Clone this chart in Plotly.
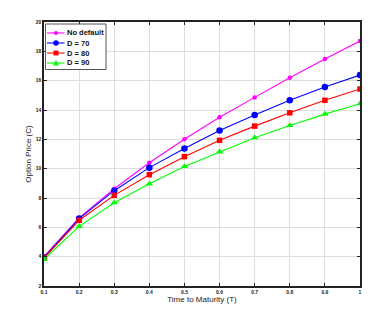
import plotly.graph_objects as go

T = [0.1, 0.2, 0.3, 0.4, 0.5, 0.6, 0.7, 0.8, 0.9, 1.0]
no_default = [4.00, 6.64, 8.63, 10.40, 12.00, 13.50, 14.86, 16.20, 17.47, 18.70]
d70 = [3.95, 6.60, 8.50, 10.07, 11.38, 12.60, 13.66, 14.66, 15.57, 16.38]
d80 = [3.90, 6.48, 8.18, 9.59, 10.82, 11.93, 12.90, 13.81, 14.66, 15.43]
d90 = [3.82, 6.07, 7.68, 8.97, 10.15, 11.15, 12.11, 12.95, 13.72, 14.43]

x_ticks = [0.1, 0.2, 0.3, 0.4, 0.5, 0.6, 0.7, 0.8, 0.9, 1]
x_ticktext = ["0.1", "0.2", "0.3", "0.4", "0.5", "0.6", "0.7", "0.8", "0.9", "1"]
y_ticks = [2, 4, 6, 8, 10, 12, 14, 16, 18, 20]

series_names = ["No default", "D = 70", "D = 80", "D = 90"]
series_values = [no_default, d70, d80, d90]
series_colors = ["#ff00ff", "#0000ff", "#ff0000", "#00ff00"]
series_symbols = ["circle", "circle", "square", "triangle-up"]
series_sizes = [4.5, 6.5, 5.5, 6.5]

# plot-area geometry (pixels) used for the hand-drawn compact legend
W, H = 374, 317
ML, MR, MT, MB = 44, 14, 22, 31
PW, PH = W - ML - MR, H - MT - MB


def px_x(p):
    return (p - ML) / PW


def px_y(p):
    return 1 - (p - MT) / PH


fig = go.Figure()
for name, vals, col, sym, sz in zip(series_names, series_values, series_colors,
                                    series_symbols, series_sizes):
    fig.add_trace(go.Scatter(
        x=T, y=vals, name=name, mode="lines+markers",
        line=dict(color=col, width=1.1),
        marker=dict(color=col, symbol=sym, size=sz, line=dict(width=0)),
        showlegend=False,
    ))

FONT = "Liberation Sans, Arial, sans-serif"

# compact legend (box, sample lines, sample markers, labels)
shapes = []
annotations = []
shapes.append(dict(type="rect", xref="paper", yref="paper",
                   x0=px_x(45.5), x1=px_x(106), y0=px_y(69.5), y1=px_y(24),
                   line=dict(color="#555555", width=1), fillcolor="white", layer="above"))
entry_y = [33, 43, 53, 63]
legend_marker_sizes = [4, 5.5, 5, 6]
for i, (name, col, sym) in enumerate(zip(series_names, series_colors, series_symbols)):
    yy = px_y(entry_y[i])
    xm = px_x(56)
    shapes.append(dict(type="line", xref="paper", yref="paper",
                       x0=px_x(47), x1=px_x(64.5), y0=yy, y1=yy,
                       line=dict(color=col, width=1.1), layer="above"))
    r = legend_marker_sizes[i] / 2.0
    if sym == "circle":
        shapes.append(dict(type="circle", xref="paper", yref="paper",
                           xsizemode="pixel", ysizemode="pixel", xanchor=xm, yanchor=yy,
                           x0=-r, x1=r, y0=-r, y1=r,
                           fillcolor=col, line=dict(width=0), layer="above"))
    elif sym == "square":
        shapes.append(dict(type="rect", xref="paper", yref="paper",
                           xsizemode="pixel", ysizemode="pixel", xanchor=xm, yanchor=yy,
                           x0=-r, x1=r, y0=-r, y1=r,
                           fillcolor=col, line=dict(width=0), layer="above"))
    else:
        shapes.append(dict(type="path", xref="paper", yref="paper",
                           xsizemode="pixel", ysizemode="pixel", xanchor=xm, yanchor=yy,
                           path=f"M {-r} {-r*0.8} L {r} {-r*0.8} L 0 {r} Z",
                           fillcolor=col, line=dict(width=0), layer="above"))
    annotations.append(dict(xref="paper", yref="paper", x=px_x(65), y=yy,
                            xanchor="left", yanchor="middle", showarrow=False,
                            text=f"<b>{name}</b>",
                            font=dict(size=7.5, family=FONT, color="#111111")))

fig.update_layout(
    width=W, height=H,
    margin=dict(l=ML, r=MR, t=MT, b=MB, autoexpand=False),
    paper_bgcolor="white", plot_bgcolor="white",
    font=dict(family=FONT, color="#222222"),
    showlegend=False,
    shapes=shapes, annotations=annotations,
)
fig.update_xaxes(
    range=[0.1, 1.0], tickvals=x_ticks, ticktext=[f"<b>{t}</b>" for t in x_ticktext],
    showgrid=True, gridcolor="#dddddd", gridwidth=1,
    showline=True, linecolor="#222222", linewidth=1.5, mirror="ticks",
    ticks="inside", ticklen=3, tickcolor="#222222",
    tickfont=dict(size=5, family=FONT, color="#222222"),
    title=dict(text="Time to Maturity (T)", font=dict(size=8, family=FONT, color="#222222"), standoff=3),
    zeroline=False, automargin=False,
)
fig.update_yaxes(
    range=[2, 20], tickvals=y_ticks, ticktext=[f"<b>{t}</b>" for t in y_ticks],
    showgrid=True, gridcolor="#dddddd", gridwidth=1,
    showline=True, linecolor="#222222", linewidth=1.5, mirror="ticks",
    ticks="inside", ticklen=3, tickcolor="#222222",
    tickfont=dict(size=5, family=FONT, color="#222222"),
    title=dict(text="Option Price (C)", font=dict(size=8, family=FONT, color="#222222"), standoff=3),
    zeroline=False, automargin=False,
)

fig.write_html(
    "out.html",
    config={"displayModeBar": False},
    post_script="document.body.style.margin='0';document.body.style.overflow='hidden';",
)
